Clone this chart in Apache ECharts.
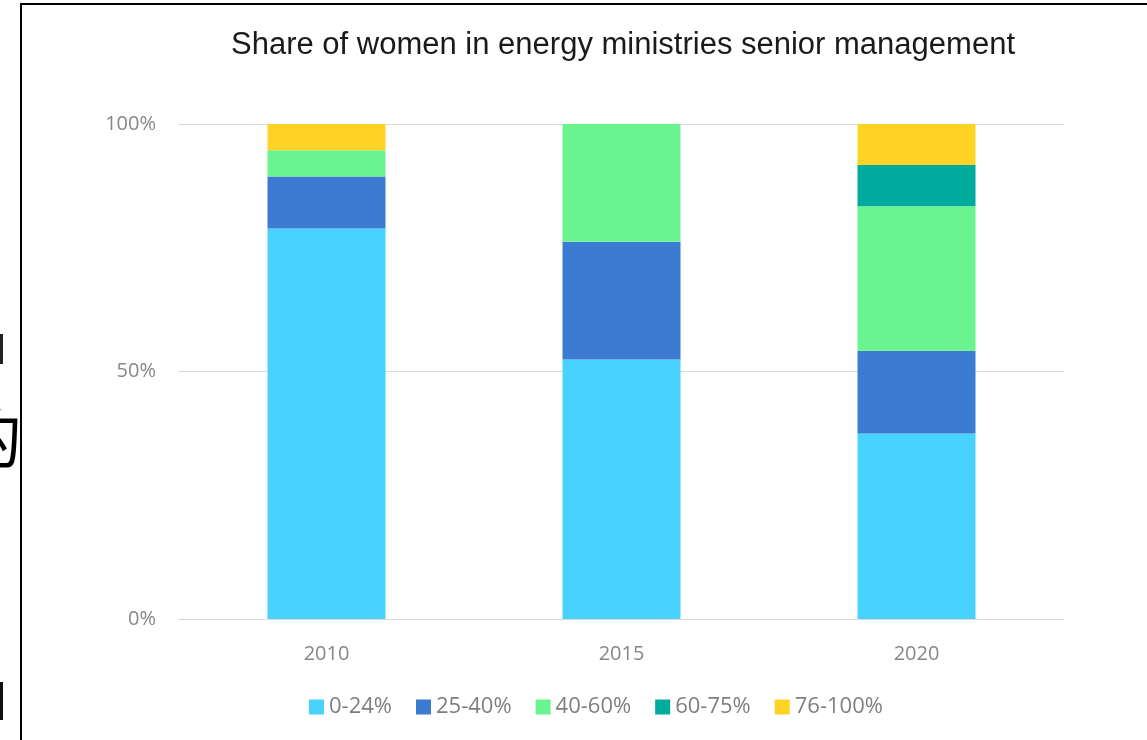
<!DOCTYPE html>
<html>
<head>
<meta charset="utf-8">
<title>Share of women in energy ministries senior management</title>
<script src="https://cdn.jsdelivr.net/npm/echarts@6/dist/echarts.min.js"></script>
<style>
  html, body { margin: 0; padding: 0; background: #fff; }
  #chart { width: 1147px; height: 740px; }
</style>
</head>
<body>
<div id="chart"></div>
<script>
// years on the x axis
var years = ['2010', '2015', '2020'];
// share of countries (%) in each band of women in senior management
var band0_24 = [78.9, 52.4, 37.5];
var band25_40 = [10.5, 23.8, 16.7];
var band40_60 = [5.3, 23.8, 29.2];
var band60_75 = [0, 0, 8.3];
var band76_100 = [5.3, 0, 8.3];
var bandNames = ['0-24%', '25-40%', '40-60%', '60-75%', '76-100%'];
var bandColors = ['#48d3fe', '#3c7bd2', '#6af48f', '#00aa9d', '#ffd324'];
var yTicks = [0, 50, 100];

var myChart = echarts.init(document.getElementById('chart'));

var allBands = [band0_24, band25_40, band40_60, band60_75, band76_100];
var series = [];
for (var i = 0; i < allBands.length; i++) {
  series.push({
    name: bandNames[i],
    type: 'bar',
    stack: 'share',
    barWidth: '40%',
    data: allBands[i],
    itemStyle: { color: bandColors[i] }
  });
}

var labelFont = '"Open Sans", "Noto Sans", sans-serif';

var option = {
  animation: false,
  backgroundColor: '#fff',
  color: bandColors,
  title: {
    text: 'Share of women in energy ministries senior management',
    left: 618,
    top: 25,
    textAlign: 'center',
    textStyle: {
      fontFamily: '"Liberation Sans", Arial, sans-serif',
      fontSize: 31,
      fontWeight: 'normal',
      color: '#1a1a1a'
    }
  },
  legend: {
    left: 309,
    top: 696,
    padding: 0,
    icon: 'rect',
    itemWidth: 15,
    itemHeight: 15,
    itemGap: 24,
    data: bandNames,
    textStyle: { fontFamily: labelFont, fontSize: 22, color: '#7f7f7f' }
  },
  grid: {
    left: 179,
    right: 83,
    top: 124,
    bottom: 121,
    containLabel: false,
    outerBoundsMode: 'none'
  },
  xAxis: {
    type: 'category',
    data: years,
    axisLine: { show: true, lineStyle: { color: '#d9d9d9', width: 1 } },
    axisTick: { show: false },
    axisLabel: { margin: 25, fontFamily: labelFont, fontSize: 20, color: '#878787' },
    splitLine: { show: false }
  },
  yAxis: {
    type: 'value',
    min: yTicks[0],
    max: yTicks[yTicks.length - 1],
    interval: yTicks[1] - yTicks[0],
    axisLine: { show: false },
    axisTick: { show: false },
    axisLabel: { margin: 23, formatter: '{value}%', fontFamily: labelFont, fontSize: 20, color: '#878787' },
    splitLine: { lineStyle: { color: '#d9d9d9', width: 1 } }
  },
  series: series,
  graphic: [
    // page frame around the chart
    { type: 'rect', shape: { x: 21, y: 4, width: 1300, height: 900 }, style: { fill: 'none', stroke: '#000', lineWidth: 2 }, z: 100 },
    // cropped text outside the frame
    { type: 'text', x: 22, y: 438, style: { text: '的', font: '65px "Noto Sans CJK SC"', fill: '#000', align: 'right', verticalAlign: 'middle' } },
    { type: 'rect', shape: { x: 0, y: 334, width: 3, height: 30 }, style: { fill: '#222' } },
    { type: 'rect', shape: { x: 0, y: 682, width: 3, height: 38 }, style: { fill: '#111' } }
  ]
};

myChart.setOption(option);
window.onresize = myChart.resize;
</script>
</body>
</html>
